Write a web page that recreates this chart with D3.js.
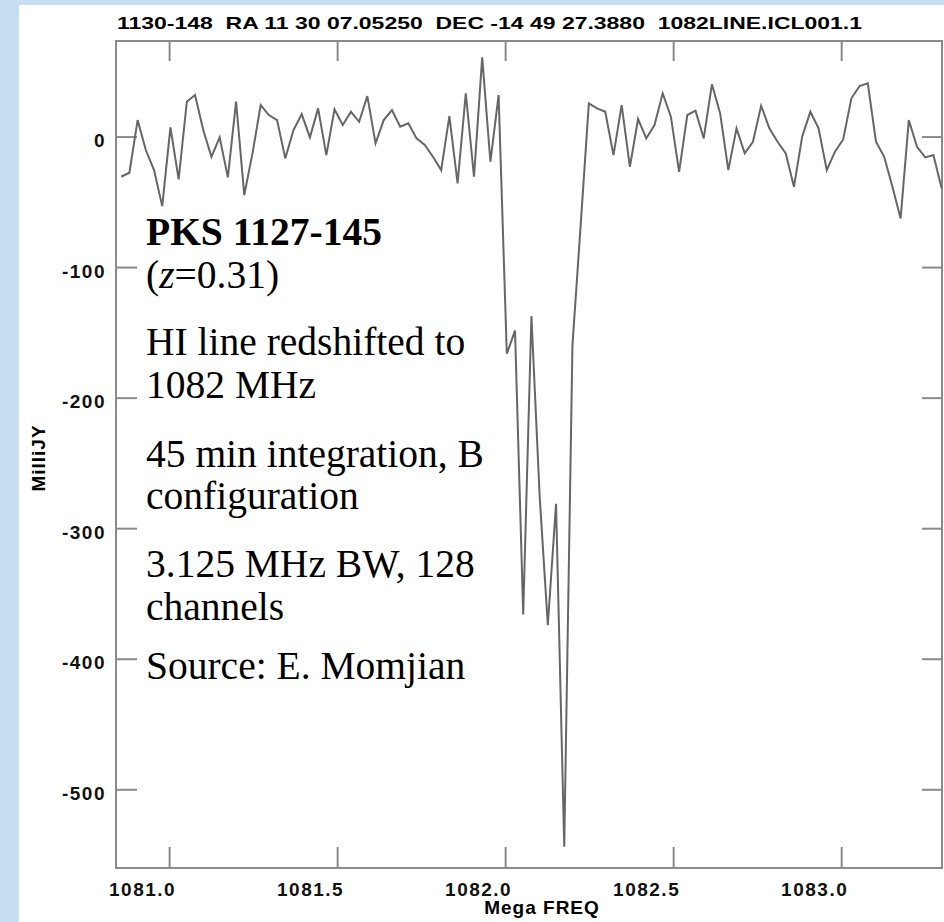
<!DOCTYPE html>
<html>
<head>
<meta charset="utf-8">
<script src="https://cdn.jsdelivr.net/npm/d3@7"></script>
<style>
  body { margin: 0; background: #c6def1; }
  svg { display: block; }
  .tick text { font-family: "Liberation Sans", Arial, sans-serif; font-weight: bold; font-size: 19px; letter-spacing: 1.5px; fill: #111; }
  .tick line { stroke: #8a8a8a; stroke-width: 2; }
</style>
</head>
<body>
<div id="chart"></div>
<script>
// spectrum: flux density (milliJy) per channel
var flux = [
  -30.8, -27.7, 12.6, -10.3, -25.7, -53.3, 7, -32.8, 26.7, 31.8,
  5, -15.5, -0.6, -31.3, 26.7, -44.8, -12.9, 24.1, 16.5, 12.6,
  -16.7, 5, 17.2, -0.6, 21.6, -14.2, 20.8, 8.8, 19, 11.3,
  31, -5.2, 12.6, 20.3, 7.5, 10.1, -1.4, -6.5, -15.5, -25.7,
  15.7, -35.9, 33.1, -30.8, 60.7, -19.3, 31.8,
  -166.4, -148.6, -366, -137.5, -275, -374.3, -281.3, -544, -160, -68,
  25.4, 21.6, 19, -14.2, 24.1, -23.1, 13.4, -1.4, 8.8, 33.1,
  15.2, -27, 16.5, 19.8, -1.4, 40, 17.8, -25.7, 6.3, -12.9,
  -4, 23.6, 6.3, -4, -12.9, -38.5, -0.1, 19, 6.3, -25.7,
  -11.6, -2.2, 29.3, 38.7, 40.8, -4, -15.5, -38.5, -62.7, 12.6,
  -7.8, -16, -14.2, -39.7
];
var firstChanFreq = 1080.8575;      // MHz, first plotted channel
var chanWidth = 3.125 / 128;        // 3.125 MHz BW over 128 channels

var xTicks = [1081.0, 1081.5, 1082.0, 1082.5, 1083.0];
var yTicks = [0, -100, -200, -300, -400, -500];

var title = "1130-148  RA 11 30 07.05250  DEC -14 49 27.3880  1082LINE.ICL001.1";
var notes = [
  [{t: "PKS 1127-145", b: true}],
  [{t: "("}, {t: "z", i: true}, {t: "=0.31)"}],
  [{t: "HI line redshifted to"}],
  [{t: "1082 MHz"}],
  [{t: "45 min integration, B"}],
  [{t: "configuration"}],
  [{t: "3.125 MHz BW, 128"}],
  [{t: "channels"}],
  [{t: "Source: E. Momjian"}]
];
var noteBase = [245, 288, 355, 398, 467, 509, 577, 620, 679];

var W = 944, H = 922;
var plotL = 116, plotR = 942, plotT = 41, plotB = 868;

var svg = d3.select("#chart").append("svg")
    .attr("width", W)
    .attr("height", H);

svg.append("rect").attr("width", W).attr("height", H).attr("fill", "#c6def1");
svg.append("rect").attr("x", 19).attr("y", 5).attr("width", W - 19).attr("height", H - 5).attr("fill", "#fff");

var x = d3.scaleLinear().domain([1080.842, 1083.300]).range([plotL, plotR]);
var y = d3.scaleLinear().domain([73.2, -560.3]).range([plotT, plotB]);

// axes, ticks pointing inward
var gx = svg.append("g").attr("transform", "translate(0," + plotB + ")")
    .call(d3.axisBottom(x).tickValues(xTicks).tickSize(-21).tickSizeOuter(0).tickFormat(d3.format(".1f")));
gx.selectAll("text").attr("x", -27).attr("y", 28).attr("dy", 0);

svg.append("g").attr("transform", "translate(0," + plotT + ")")
    .call(d3.axisTop(x).tickValues(xTicks).tickSize(-20).tickSizeOuter(0).tickFormat(""));

// plain hyphen for the minus sign, like the original plot
var gy = svg.append("g").attr("transform", "translate(" + plotL + ",0)")
    .call(d3.axisLeft(y).tickValues(yTicks).tickSize(-21).tickSizeOuter(0)
        .tickFormat(function(d) { return String(d); }));
gy.selectAll("text").attr("x", -10).attr("dy", 10);

svg.append("g").attr("transform", "translate(" + plotR + ",0)")
    .call(d3.axisRight(y).tickValues(yTicks).tickSize(-20).tickSizeOuter(0).tickFormat(""));

svg.selectAll(".domain").remove();

svg.append("rect")
    .attr("x", plotL).attr("y", plotT)
    .attr("width", plotR - plotL).attr("height", plotB - plotT)
    .attr("fill", "none").attr("stroke", "#8a8a8a").attr("stroke-width", 2);

var line = d3.line()
    .x(function(d, i) { return x(firstChanFreq + i * chanWidth); })
    .y(function(d) { return y(d); });

svg.append("path")
    .datum(flux)
    .attr("d", line)
    .attr("fill", "none")
    .attr("stroke", "#666")
    .attr("stroke-width", 2)
    .attr("stroke-linejoin", "miter");

// labels
svg.append("text")
    .attr("x", 117).attr("y", 29)
    .attr("textLength", 745).attr("lengthAdjust", "spacingAndGlyphs")
    .style("white-space", "pre")
    .style("font-family", "'Liberation Sans', Arial, sans-serif")
    .style("font-weight", "bold").style("font-size", "17px")
    .text(title);

svg.append("text")
    .attr("x", 542).attr("y", 914)
    .attr("text-anchor", "middle")
    .style("font-family", "'Liberation Sans', Arial, sans-serif")
    .style("font-weight", "bold").style("font-size", "19px")
    .style("letter-spacing", "1px")
    .text("Mega FREQ");

svg.append("text")
    .attr("transform", "translate(45,458) rotate(-90)")
    .attr("text-anchor", "middle")
    .style("font-family", "'Liberation Sans', Arial, sans-serif")
    .style("font-weight", "bold").style("font-size", "19px")
    .style("letter-spacing", "1px")
    .text("MilliJY");

var txt = svg.append("g")
    .style("font-family", "'Liberation Serif', 'Times New Roman', serif")
    .style("font-size", "39.5px")
    .attr("fill", "#000");

txt.selectAll("text")
    .data(notes)
    .enter()
    .append("text")
    .attr("x", 146)
    .attr("y", function(d, i) { return noteBase[i]; })
    .each(function(parts) {
        var t = d3.select(this);
        parts.forEach(function(p) {
            t.append("tspan")
                .style("font-weight", p.b ? "bold" : null)
                .style("font-style", p.i ? "italic" : null)
                .text(p.t);
        });
    });
</script>
</body>
</html>
